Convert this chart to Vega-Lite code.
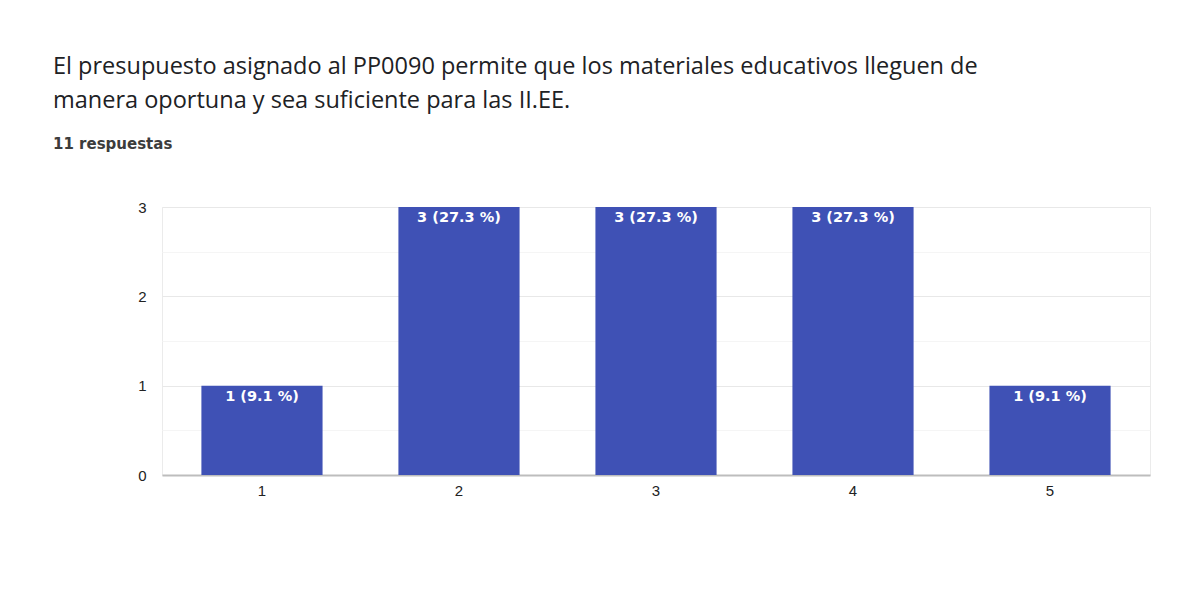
{
  "$schema": "https://vega.github.io/schema/vega-lite/v6.json",
  "autosize": "none",
  "width": 988,
  "height": 268,
  "padding": {"left": 162, "top": 207, "right": 36, "bottom": 117},
  "background": "#ffffff",
  "title": {
    "text": ["El presupuesto asignado al PP0090 permite que los materiales educativos lleguen de", "manera oportuna y sea suficiente para las II.EE."],
    "subtitle": "11 respuestas",
    "anchor": "start",
    "frame": "group",
    "dx": -109,
    "offset": 48,
    "font": "Open Sans",
    "fontSize": 23.5,
    "fontWeight": "normal",
    "color": "#202124",
    "lineHeight": 34,
    "subtitleFont": "DejaVu Sans",
    "subtitleFontSize": 15,
    "subtitleFontWeight": "bold",
    "subtitleColor": "#3c3c3c",
    "subtitlePadding": 25
  },
  "data": {
    "values": [
      {"option": "1", "count": 1, "label": "1 (9.1 %)"},
      {"option": "2", "count": 3, "label": "3 (27.3 %)"},
      {"option": "3", "count": 3, "label": "3 (27.3 %)"},
      {"option": "4", "count": 3, "label": "3 (27.3 %)"},
      {"option": "5", "count": 1, "label": "1 (9.1 %)"}
    ]
  },
  "encoding": {
    "x": {
      "field": "option",
      "type": "nominal",
      "sort": null,
      "scale": {"paddingInner": 0.385, "paddingOuter": 0.2},
      "axis": {
        "title": null,
        "labelAngle": 0,
        "ticks": false,
        "labelPadding": 8,
        "labelFont": "Liberation Sans",
        "labelFontSize": 15,
        "labelColor": "#222222",
        "domainColor": "#bdbdbd",
        "domainWidth": 2,
        "grid": false
      }
    },
    "y": {
      "field": "count",
      "type": "quantitative",
      "scale": {"domain": [0, 3], "nice": false},
      "axis": {
        "title": null,
        "values": [0, 0.5, 1, 1.5, 2, 2.5, 3],
        "labelExpr": "datum.value % 1 == 0 ? format(datum.value, 'd') : ''",
        "ticks": false,
        "domain": false,
        "labelPadding": 16,
        "labelFont": "Liberation Sans",
        "labelFontSize": 15,
        "labelColor": "#222222",
        "gridColor": {"condition": {"test": "datum.value % 1 == 0", "value": "#e8e8e8"}, "value": "#f5f5f5"},
        "gridWidth": 1
      }
    }
  },
  "layer": [
    {"mark": {"type": "bar", "color": "#3f51b5"}},
    {
      "mark": {"type": "text", "color": "#ffffff", "baseline": "top", "dy": 4, "font": "DejaVu Sans", "fontSize": 14.5, "fontWeight": "bold"},
      "encoding": {"text": {"field": "label"}}
    }
  ],
  "config": {
    "view": {"stroke": "#ebebeb"}
  }
}
